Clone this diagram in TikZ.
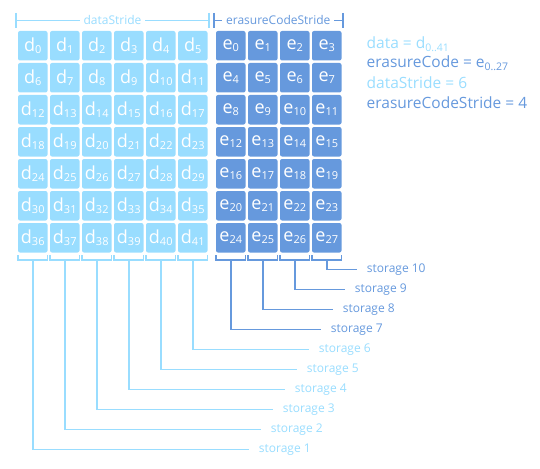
\documentclass[tikz,border=0pt]{standalone}
\usepackage{fontspec}
\setmainfont{Open Sans}
\definecolor{lb}{HTML}{99DDFF}
\definecolor{db}{HTML}{6699DD}
\newcommand{\cl}[2]{#1\raisebox{-0.12em}{\fontsize{11}{11}\selectfont #2}}
\newcommand{\lsub}[1]{\raisebox{-0.2em}{\fontsize{10.5}{10.5}\selectfont #1}}
\begin{document}
\begin{tikzpicture}[x=1pt,y=-1pt,
  cellbox/.style={rounded corners=2pt, minimum size=29.5pt, inner sep=0pt, text=white, font=\fontsize{18}{18}\selectfont},
  cellD/.style={cellbox, fill=lb},
  cellE/.style={cellbox, fill=db},
  brk/.style={line width=1.5pt},
  slab/.style={anchor=west, inner sep=0pt, font=\fontsize{12}{12}\selectfont},
  hdr/.style={fill=white, inner xsep=4pt, inner ysep=1pt, font=\fontsize{12}{12}\selectfont},
  leg/.style={anchor=west, inner sep=0pt, font=\fontsize{15.5}{15.5}\selectfont}]
\useasboundingbox (0,0) rectangle (540,468);
% cells
\foreach \r in {0,...,6} {
  \foreach \c in {0,...,5} {
    \pgfmathtruncatemacro\n{\r*6+\c}
    \node[cellD] (d\n) at ({32.75+32*\c},{45.75+32*\r}) {\cl{d}{\n}};
  }
  \foreach \c in {0,...,3} {
    \pgfmathtruncatemacro\n{\r*4+\c}
    \node[cellE] (e\n) at ({230.75+32*\c},{45.75+32*\r}) {\cl{e}{\n}};
  }
}
% top brackets
\draw[lb, line width=1pt] (16,21) -- (209,21);
\draw[lb, line width=2pt] (16,13) -- (16,28);
\draw[lb, line width=2pt] (209,13) -- (209,28);
\node[hdr, text=lb] (hd) at (112.5,20) {dataStride};
\draw[db, line width=1pt] (214,21) -- (342.5,21);
\draw[db, line width=2pt] (214,13) -- (214,28);
\draw[db, line width=2pt] (342.5,13) -- (342.5,28);
\node[hdr, text=db] (he) at (278.3,20) {erasureCodeStride};
% legend
\node[leg, text=lb] (l1) at (366.5,44) {data = d\lsub{0..41}};
\node[leg, text=db] (l2) at (366.5,63.5) {erasureCode = e\lsub{0..27}};
\node[leg, text=lb] (l3) at (366.5,83) {dataStride = 6};
\node[leg, text=db] (l4) at (366.5,102.5) {erasureCodeStride = 4};
% storage for data columns
\foreach \c in {0,...,5} {
  \pgfmathtruncatemacro\k{\c+1}
  \pgfmathtruncatemacro\m{36+\c}
  \draw[lb, brk] (18+32*\c,255) -- (18+32*\c,260) -- (47.5+32*\c,260) -- (47.5+32*\c,255);
  \coordinate (b\k) at (32.75+32*\c,260);
  \coordinate (t\k) at (248.7+12*\c,449.3-20*\c);
  \node[slab, text=lb] (s\k) at (258.7+12*\c,449.3-20*\c) {storage \k};
  \draw[lb, brk] (b\k) |- (t\k);
}
% storage for erasure columns
\foreach \c in {0,...,3} {
  \pgfmathtruncatemacro\k{\c+7}
  \draw[db, brk] (216+32*\c,255) -- (216+32*\c,260) -- (245.5+32*\c,260) -- (245.5+32*\c,255);
  \coordinate (b\k) at (230.75+32*\c,260);
  \coordinate (t\k) at (320.7+12*\c,329.3-20*\c);
  \node[slab, text=db] (s\k) at (330.7+12*\c,329.3-20*\c) {storage \k};
  \draw[db, brk] (b\k) |- (t\k);
}
\end{tikzpicture}
\end{document}
